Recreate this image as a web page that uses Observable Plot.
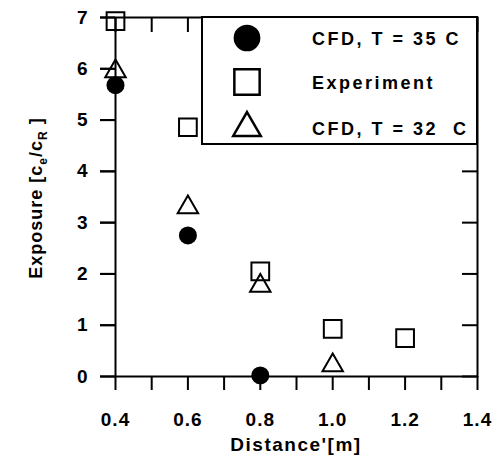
<!DOCTYPE html>
<html><head><meta charset="utf-8">
<script src="https://cdn.jsdelivr.net/npm/d3@7"></script>
<script src="https://cdn.jsdelivr.net/npm/@observablehq/plot@0.6"></script>
<style>
body{margin:0;background:#fff}
svg{display:block}
</style>
</head><body><div id="chart"></div>
<script>
// Data
const distance35 = [0.4, 0.6, 0.8];
const exposure35 = [5.68, 2.75, 0.02];
const distanceExp = [0.4, 0.6, 0.8, 1.0, 1.2];
const exposureExp = [6.93, 4.86, 2.05, 0.93, 0.75];
const distance32 = [0.4, 0.6, 0.8, 1.0];
const exposure32 = [5.95, 3.3, 1.77, 0.22];
const xTicks = [0.4, 0.5, 0.6, 0.7, 0.8, 0.9, 1.0, 1.1, 1.2, 1.3, 1.4];
const xTickLabels = ["0.4", "", "0.6", "", "0.8", "", "1.0", "", "1.2", "", "1.4"];
const yTicks = [0, 1, 2, 3, 4, 5, 6, 7];
const yTickLabels = ["0", "1", "2", "3", "4", "5", "6", "7"];
const seriesNames = ["CFD, T = 35 C", "Experiment", "CFD, T = 32  C"];

const rows35 = distance35.map((d, i) => ({x: d, y: exposure35[i]}));
const rowsExp = distanceExp.map((d, i) => ({x: d, y: exposureExp[i]}));
const rows32 = distance32.map((d, i) => ({x: d, y: exposure32[i]}));

const fmtX = d => {
  const i = xTicks.findIndex(t => Math.abs(t - d) < 1e-6);
  return i >= 0 ? xTickLabels[i] : "";
};
const fmtY = d => {
  const i = yTicks.findIndex(t => Math.abs(t - d) < 1e-6);
  return i >= 0 ? yTickLabels[i] : "";
};

const plotW = 504 - 115 - 27, plotH = 455 - 17 - 79;

const plot = Plot.plot({
  width: 504, height: 455,
  marginLeft: 115, marginRight: 27, marginTop: 17, marginBottom: 79,
  x: {domain: [0.4, 1.4]},
  y: {domain: [0, 7]},
  style: {fontFamily: "'Liberation Sans', Arial, sans-serif", fontWeight: "bold", fontSize: "19px", background: "white", color: "black", letterSpacing: "1px"},
  marks: [
    Plot.frame({strokeWidth: 2}),
    Plot.axisX({anchor: "bottom", ticks: xTicks, tickSize: 14, tickPadding: 22, strokeWidth: 2, tickFormat: fmtX, label: null}),
    Plot.tickX(xTicks, {x: d => d, insetBottom: plotH - 15, strokeWidth: 2}),
    Plot.axisY({anchor: "left", ticks: yTicks, tickSize: 15, tickPadding: 12, strokeWidth: 2, tickFormat: fmtY, label: null}),
    Plot.tickY(yTicks, {y: d => d, insetLeft: -15, insetRight: plotW, strokeWidth: 2}),
    Plot.tickY(yTicks, {y: d => d, insetLeft: plotW - 15, strokeWidth: 2}),
    Plot.dot(rowsExp, {x: "x", y: "y", symbol: "square", r: 10, stroke: "black", strokeWidth: 2, fill: "none"}),
    Plot.dot(rows32, {x: "x", y: "y", symbol: "triangle", r: 7.6, stroke: "black", strokeWidth: 2, fill: "none"}),
    Plot.dot(rows35, {x: "x", y: "y", symbol: "circle", r: 9, fill: "black", stroke: "none"})
  ]
});

const svg = d3.select(plot);
// Legend
const lg = svg.append("g").attr("text-anchor", "start");
lg.append("rect").attr("x", 202).attr("y", 17).attr("width", 275).attr("height", 127)
  .attr("fill", "white").attr("stroke", "black").attr("stroke-width", 2);
const symbols = [d3.symbolCircle, d3.symbolSquare, d3.symbolTriangle];
const symSizes = [560, 640, 330];
const rowY = [38, 82, 128];
seriesNames.forEach((name, i) => {
  lg.append("path")
    .attr("transform", `translate(247,${rowY[i]})`)
    .attr("d", d3.symbol(symbols[i], symSizes[i])())
    .attr("fill", i === 0 ? "black" : "none")
    .attr("stroke", i === 0 ? "none" : "black")
    .attr("stroke-width", 2.5);
  lg.append("text").attr("x", 312).attr("y", rowY[i] + 7)
    .attr("text-anchor", "start")
    .style("font-size", "18px").style("letter-spacing", "2.5px")
    .attr("fill", "black").text(name);
});

// Axis titles
svg.append("text").attr("x", 296).attr("y", 451).attr("text-anchor", "middle")
  .style("font-size", "19px").style("letter-spacing", "1.5px").attr("fill", "black").text("Distance'[m]");

const yt = svg.append("text").attr("transform", "translate(42,198) rotate(-90)")
  .attr("text-anchor", "middle").style("font-size", "18px").style("letter-spacing", "1px").attr("fill", "black");
yt.append("tspan").text("Exposure [c");
yt.append("tspan").style("font-size", "12px").attr("dy", 5).text("e");
yt.append("tspan").attr("dy", -5).text("/c");
yt.append("tspan").style("font-size", "12px").attr("dy", 5).text("R");
yt.append("tspan").attr("dy", -5).text(" ]");

document.getElementById("chart").appendChild(plot);
</script>
</body></html>
